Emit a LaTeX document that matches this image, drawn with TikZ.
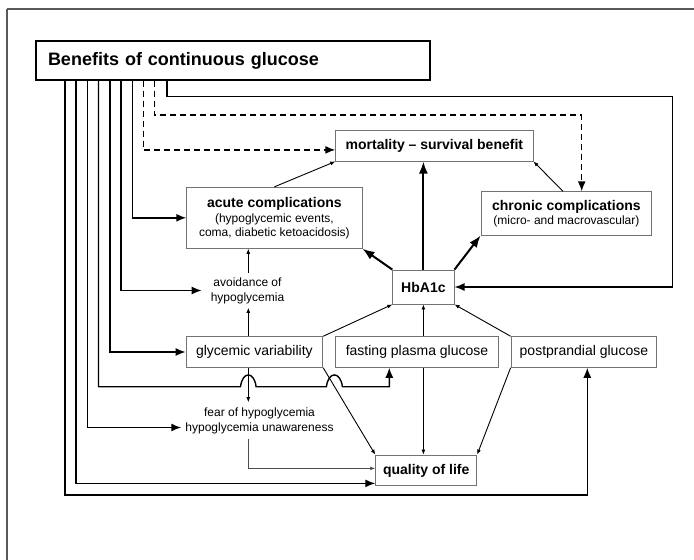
\documentclass[tikz,border=0pt]{standalone}
\usepackage{fontspec}
\setmainfont{Liberation Sans}
\usetikzlibrary{arrows.meta,calc}
\begin{document}
\begin{tikzpicture}[x=1pt,y=-1pt,
  box/.style={draw=black!55, line width=0.9pt, fill=white, inner sep=0pt, align=center},
  lbl/.style={inner sep=2pt, align=center, font=\fontsize{12}{15}\selectfont},
  br/.style={line width=1.4pt, -{Latex[length=10pt,width=8pt]}},
  dsh/.style={line width=1.4pt, dash pattern=on 6pt off 4pt, -{Latex[length=10pt,width=8pt]}},
  thinarr/.style={line width=0.9pt, -{Latex[length=5pt,width=4pt]}},
  thickarr/.style={line width=2pt, -{Latex[length=12pt,width=9pt]}},
  bigf/.style={font=\fontsize{14}{16}\selectfont\bfseries},
  regf/.style={font=\fontsize{14}{16}\selectfont}
]
\useasboundingbox (0,0) rectangle (694,560);
% frame
\draw[black!65, line width=2pt] (7,9) -- (694,9);
\draw[black!65, line width=1.5pt] (7,9) -- (7,560);

% nodes
\node[draw, line width=1.3pt, minimum height=39pt, text width=370pt, inner xsep=12pt, inner ysep=0pt, align=left,
      font=\fontsize{18}{20}\selectfont\bfseries] (title) at (233,60.5) {Benefits of continuous glucose};
\node[box, bigf, minimum width=197.3pt, minimum height=30.3pt] (mort) at (434.4,145.9) {mortality – survival benefit};
\node[box, minimum width=175.3pt, minimum height=61pt, font=\fontsize{12}{14}\selectfont] (acute) at (274.4,217.8)
  {{\fontsize{14}{16}\selectfont\bfseries acute complications}\\[1pt](hypoglycemic events,\\coma, diabetic ketoacidosis)};
\node[box, minimum width=170.7pt, minimum height=43.3pt, font=\fontsize{12}{14}\selectfont] (chronic) at (566.4,213.4)
  {{\fontsize{14}{16}\selectfont\bfseries chronic complications}\\(micro- and macrovascular)};
\node[box, bigf, minimum width=61.3pt, minimum height=34pt] (hba) at (423.4,287) {HbA1c};
\node[box, regf, minimum width=136.7pt, minimum height=30.6pt] (glyc) at (254.4,352) {glycemic variability};
\node[box, regf, minimum width=162.6pt, minimum height=30.6pt] (fast) at (417,352) {fasting plasma glucose};
\node[box, regf, minimum width=145.7pt, minimum height=30.6pt] (post) at (583.9,352) {postprandial glucose};
\node[box, bigf, minimum width=101pt, minimum height=30.7pt] (qol) at (426.2,470.4) {quality of life};
\node[lbl, inner xsep=9pt, inner ysep=4pt] (avoid) at (247.5,290.5) {avoidance of\\hypoglycemia};
\node[lbl, inner xsep=4pt, inner ysep=5pt] (fear) at (259.5,420.5) {fear of hypoglycemia\\hypoglycemia unawareness};

% coordinates for branch columns
\coordinate (c1) at (65,0);
\coordinate (c2) at (76,0);
\coordinate (c3) at (87.5,0);
\coordinate (c4) at (98.5,0);
\coordinate (c5) at (110,0);
\coordinate (c6) at (121,0);
\coordinate (c7) at (132.7,0);
\coordinate (c8) at (143.3,0);
\coordinate (c9) at (154.7,0);
\coordinate (c10) at (167,0);
\coordinate (ax) at (248.3,0);
\coordinate (fx) at (389.3,0);
\coordinate (r1) at (672.7,96.7);
\coordinate (d1) at (581.7,115);
\coordinate (yb) at (587.3,495);

% branches from title
\draw[br] (title.south -| c10) |- (r1) |- (hba.east);
\draw[dsh] (title.south -| c9) |- (d1) -- ($(chronic.north)+(15.3,0)$);
\draw[dsh] (title.south -| c8) |- ($(mort.west)+(0,4)$);
\draw[br] (title.south -| c7) |- (acute.west);
\draw[br] (title.south -| c6) |- (avoid.west);
\draw[br] (title.south -| c5) |- (glyc.west);
\draw[br] (title.south -| c4) -- (98.5,386.7) -- (240.5,386.7)
   .. controls (242.5,371) and (254.1,371) .. (256.1,386.7) -- (326.4,386.7)
   .. controls (328.4,371) and (340.4,371) .. (342.4,386.7) -- (fx |- 0,386.7) -- (fast.south -| fx);
\draw[br] (title.south -| c3) |- ($(fear.west)+(0,7)$);
\draw[br] (title.south -| c2) |- ($(qol.west)+(0,13)$);
\draw[br] (title.south -| c1) |- (yb) -- (post.south -| yb);

% HbA1c relations
\draw[thickarr] (hba.north) -- (mort.south -| hba.north);
\draw[thickarr] (hba.north west) -- (acute.south east);
\draw[thickarr] (hba.north east) -- (chronic.south west);
\draw[thinarr] (acute.north) -- (mort.south west);
\draw[thinarr] ($(chronic.north)+(-3.4,0)$) -- (mort.south east);
\draw[thinarr] (glyc.north east) -- (hba.south west);
\draw[thinarr] (fast.north -| hba.south) -- (hba.south);
\draw[thinarr] (post.north west) -- (hba.south east);
\draw[thinarr] (glyc.south east) -- (qol.north west);
\draw[thinarr] (fast.south -| hba.south) -- (qol.north -| hba.south);
\draw[thinarr] (post.south west) -- (qol.north east);

% glycemic variability side
\draw[thinarr] (glyc.north -| ax) -- (avoid.south -| ax);
\draw[thinarr] (avoid.north -| ax) -- (acute.south -| ax);
\draw[thinarr] (glyc.south -| ax) -- (fear.north -| ax);
\draw[thinarr, draw=black!70] (fear.south -| ax) |- ($(qol.west)+(0,-2)$);
\end{tikzpicture}
\end{document}
